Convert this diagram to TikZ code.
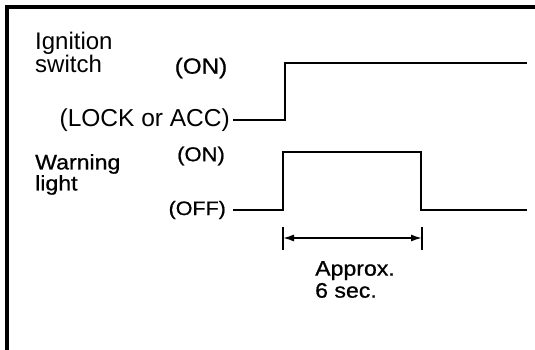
\documentclass[tikz,border=0pt]{standalone}
\usepackage{fontspec}
\setmainfont{Liberation Sans}
\newfontfamily\widefont[FakeStretch=1.1,FakeBold=0.8]{Liberation Sans}
\usetikzlibrary{arrows.meta,positioning}
\tikzset{
  frameline/.style={line width=3.5pt,line cap=rect},
  wave/.style={line width=2.6pt,line join=miter},
  dimline/.style={{Latex[length=11pt,width=7pt]}-{Latex[length=11pt,width=7pt]},line width=1.6pt},
  tickline/.style={line width=1.6pt},
  signame/.style={inner sep=0pt,align=left,anchor=north west},
  statelbl/.style={inner sep=0pt,font=\widefont\fontsize{20}{20}\selectfont}
}

\begin{document}
\begin{tikzpicture}[x=1pt,y=-1pt]
  \useasboundingbox (0,0) rectangle (535,350);
  \draw[frameline] (7,350) -- (7,7) -- (535,7);

  \node[signame,font=\fontsize{24}{20}\selectfont] (ign) at (35,32) {Ignition\\switch};
  \node[statelbl,font=\widefont\fontsize{22}{22}\selectfont] (ignon) at (201,68) {(ON)};
  \node[inner sep=0pt,anchor=east,font=\fontsize{24.5}{24.5}\selectfont] (lockacc) at (230,120) {(LOCK or ACC)};

  \node[signame,font=\widefont\fontsize{21}{21}\selectfont] (warn) at (35,154) {Warning\\light};
  \node[statelbl] (warnon) at (201,156) {(ON)};
  \node[statelbl,anchor=east,font=\widefont\fontsize{19.5}{19.5}\selectfont] (warnoff) at (226,210) {(OFF)};

  \coordinate (igrise) at (285,120);
  \coordinate (igend) at (527,63);
  \coordinate (wrise) at (283,210);
  \coordinate (wtop) at (421,152);
  \coordinate (wend) at (527,210);

  \draw[wave] ([xshift=3pt]lockacc.east) -- (igrise) |- (igend);
  \draw[wave] ([xshift=7pt]warnoff.east) -- (wrise) |- (wtop) |- (wend);

  \coordinate (tickl) at (283,227);
  \coordinate (tickr) at (422,227);
  \draw[tickline] (tickl) -- ++(0,23);
  \draw[tickline] (tickr) -- ++(0,23);
  \draw[dimline] ([yshift=-11pt]tickl) -- ([yshift=-11pt]tickr);

  \node[signame,font=\widefont\fontsize{21}{22}\selectfont] (approx) at (315,261) {Approx.\\6 sec.};
\end{tikzpicture}
\end{document}
